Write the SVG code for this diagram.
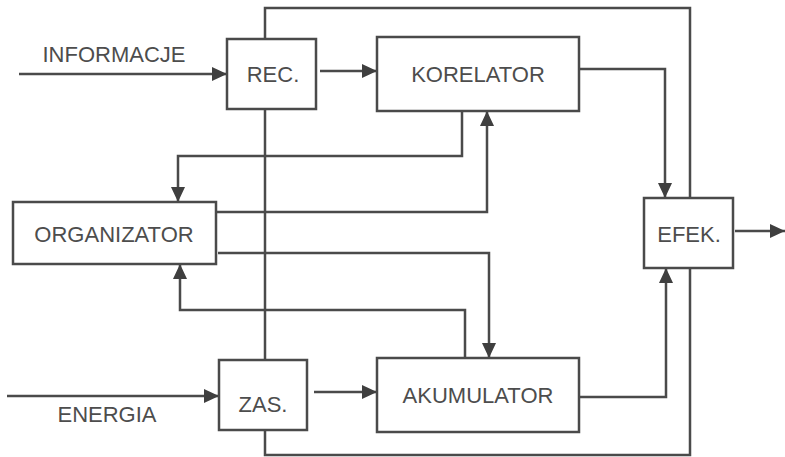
<svg xmlns="http://www.w3.org/2000/svg" width="785" height="457" viewBox="0 0 785 457">
<style>
.box{fill:#fff;stroke:#4a4a4a;stroke-width:2.5}
.ln{fill:none;stroke:#4a4a4a;stroke-width:2.5}
.ar{marker-end:url(#ah)}
text{font-family:"Liberation Sans",Arial,sans-serif;font-size:22px;fill:#4d4d4d;text-anchor:middle}
</style>
<defs>
<marker id="ah" viewBox="0 0 15 14" refX="15" refY="7" markerWidth="15" markerHeight="14" markerUnits="userSpaceOnUse" orient="auto">
<path d="M0,0 L15,7 L0,14 z" fill="#3f3f3f"/>
</marker>
</defs>
<g id="connectors">
<path class="ln" d="M265,39 V8 H690 V198"/>
<path class="ln" d="M265,109 V360"/>
<path class="ln" d="M265,430 V455 H690 V268"/>
<path class="ln ar" d="M19,74 H227"/>
<path class="ln ar" d="M7,396 H219"/>
<path class="ln ar" d="M320,71 H377"/>
<path class="ln ar" d="M314,392 H377"/>
<path class="ln ar" d="M579,69 H665 V198"/>
<path class="ln ar" d="M579,397 H666 V268"/>
<path class="ln ar" d="M462,111 V156 H178 V202"/>
<path class="ln ar" d="M216,212 H487 V111"/>
<path class="ln ar" d="M218,253 H489 V358"/>
<path class="ln ar" d="M465,358 V310 H180 V264"/>
<path class="ln ar" d="M735,231 H785"/>
</g>
<g id="label-informacje"><text x="114" y="62">INFORMACJE</text></g>
<g id="label-energia"><text x="107" y="422">ENERGIA</text></g>
<g id="rec"><rect class="box" x="227" y="39" width="89" height="70"/><text x="273" y="82">REC.</text></g>
<g id="korelator"><rect class="box" x="377" y="37" width="202" height="74"/><text x="478" y="82">KORELATOR</text></g>
<g id="organizator"><rect class="box" x="13" y="202" width="203" height="62"/><text x="114" y="242">ORGANIZATOR</text></g>
<g id="efek"><rect class="box" x="644" y="198" width="89" height="70"/><text x="689" y="242">EFEK.</text></g>
<g id="zas"><rect class="box" x="219" y="360" width="88" height="70"/><text x="263" y="412">ZAS.</text></g>
<g id="akumulator"><rect class="box" x="377" y="358" width="202" height="74"/><text x="478" y="403">AKUMULATOR</text></g>
</svg>
